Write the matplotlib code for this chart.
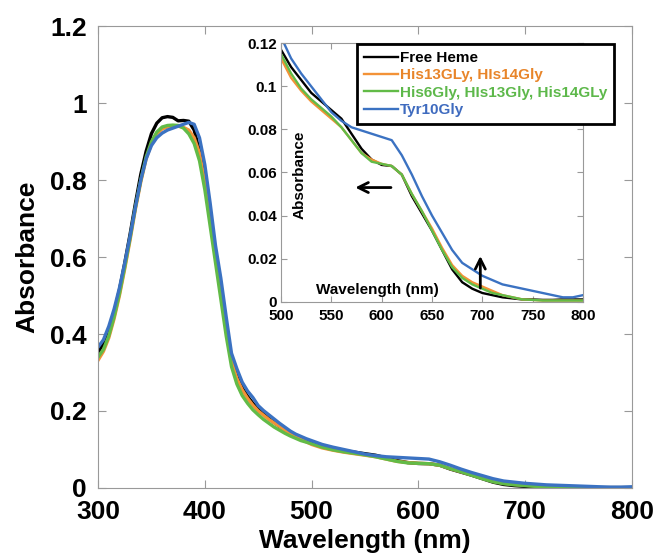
import numpy as np
from matplotlib import pyplot as plt
from matplotlib.ticker import FormatStrFormatter

plt.rcParams['font.family'] = ['Liberation Sans', 'DejaVu Sans']
plt.rcParams['font.weight'] = 'bold'

# wavelength grid (nm): 5 nm steps over the Soret band, 10 nm after
wl = list(range(300, 500, 5)) + list(range(500, 801, 10))

free_heme = [0.353, 0.375, 0.41, 0.455, 0.515, 0.585, 0.66, 0.74, 0.815, 0.875,
             0.921, 0.948, 0.962, 0.965, 0.963, 0.954, 0.955, 0.953, 0.93, 0.875,
             0.80, 0.705, 0.61, 0.515, 0.42, 0.335, 0.29, 0.26, 0.238, 0.22,
             0.205, 0.192, 0.18, 0.17, 0.16, 0.151, 0.143, 0.136, 0.129, 0.123,
             0.117, 0.109, 0.103, 0.097, 0.093, 0.089, 0.085, 0.078, 0.071, 0.066,
             0.0635, 0.063, 0.059, 0.049, 0.041, 0.033, 0.024, 0.015, 0.009, 0.006,
             0.004, 0.003, 0.002, 0.0015, 0.001, 0.001, 0.0008, 0.0008, 0.001, 0.001,
             0.001]

his13_14 = [0.332, 0.355, 0.39, 0.44, 0.50, 0.57, 0.645, 0.725, 0.795, 0.855,
            0.895, 0.92, 0.933, 0.938, 0.94, 0.94, 0.937, 0.93, 0.91, 0.87,
            0.795, 0.70, 0.605, 0.51, 0.415, 0.33, 0.285, 0.255, 0.233, 0.215,
            0.20, 0.189, 0.178, 0.169, 0.16, 0.15, 0.14, 0.133, 0.127, 0.12,
            0.113, 0.104, 0.098, 0.093, 0.089, 0.085, 0.081, 0.075, 0.069, 0.066,
            0.064, 0.063, 0.059, 0.05, 0.042, 0.034, 0.025, 0.017, 0.012, 0.009,
            0.007, 0.005, 0.003, 0.002, 0.001, 0.0008, 0.0005, 0.0005, 0.0005, 0.0005,
            0.0005]

his6_13_14 = [0.34, 0.36, 0.395, 0.445, 0.505, 0.575, 0.65, 0.73, 0.80, 0.86,
              0.90, 0.925, 0.938, 0.942, 0.943, 0.942, 0.935, 0.92, 0.895, 0.85,
              0.775, 0.68, 0.585, 0.49, 0.395, 0.315, 0.27, 0.24, 0.22, 0.203,
              0.19, 0.178, 0.168, 0.158, 0.15, 0.142, 0.135, 0.129, 0.123, 0.119,
              0.115, 0.106, 0.099, 0.094, 0.09, 0.086, 0.081, 0.075, 0.069, 0.065,
              0.064, 0.063, 0.059, 0.05, 0.042, 0.033, 0.024, 0.016, 0.011, 0.008,
              0.006, 0.004, 0.003, 0.002, 0.001, 0.0008, 0.0005, 0.0005, 0.0005, 0.0005,
              0.0005]

tyr10 = [0.366, 0.385, 0.42, 0.465, 0.52, 0.585, 0.655, 0.73, 0.80, 0.855,
         0.89, 0.91, 0.922, 0.93, 0.935, 0.94, 0.945, 0.95, 0.945, 0.91,
         0.84, 0.74, 0.63, 0.545, 0.445, 0.35, 0.31, 0.275, 0.252, 0.235,
         0.214, 0.201, 0.19, 0.179, 0.168, 0.158, 0.148, 0.14, 0.134, 0.128,
         0.123, 0.113, 0.106, 0.1, 0.094, 0.088, 0.084, 0.081, 0.0795, 0.078,
         0.0765, 0.075, 0.068, 0.059, 0.049, 0.040, 0.032, 0.024, 0.018, 0.015,
         0.012, 0.010, 0.008, 0.007, 0.006, 0.005, 0.004, 0.003, 0.002, 0.002,
         0.003]

labels = ['Free Heme', 'His13GLy, HIs14Gly', 'His6Gly, HIs13Gly, His14GLy', 'Tyr10Gly']
colors = ['black', '#F39237', '#62BB47', '#3B72C2']
text_colors = ['black', '#E8852A', '#5DB84A', '#3F6BBF']
series = [free_heme, his13_14, his6_13_14, tyr10]

fig = plt.figure(figsize=(6.54, 5.57), dpi=100)

# main plot
ax = fig.add_axes([0.150, 0.124, 0.816, 0.829])
for y, c in zip(series, colors):
    ax.plot(wl, y, color=c, lw=2.4)
ax.set_xlim(300, 800)
ax.set_ylim(0, 1.2)
ax.set_xticks([300, 400, 500, 600, 700, 800])
ax.set_yticks([0, 0.2, 0.4, 0.6, 0.8, 1.0, 1.2])
ax.yaxis.set_major_formatter(FormatStrFormatter('%g'))
ax.tick_params(direction='in', length=6, color='#999999', top=True, right=True,
               labelsize=19)
ax.tick_params(axis='y', pad=8)
ax.tick_params(axis='x', pad=9)
for s in ax.spines.values():
    s.set_color('#999999')
ax.set_xlabel('Wavelength (nm)', fontsize=19, fontweight='bold', labelpad=3)
ax.set_ylabel('Absorbance', fontsize=19, fontweight='bold', labelpad=8)

# inset
ax_in = fig.add_axes([0.4297, 0.4585, 0.4617, 0.4637])
for y, c, lab in zip(series, colors, labels):
    ax_in.plot(wl, y, color=c, lw=1.7, label=lab)
ax_in.set_xlim(500, 800)
ax_in.set_ylim(0, 0.12)
ax_in.set_xticks([500, 550, 600, 650, 700, 750, 800])
ax_in.set_yticks([0, 0.02, 0.04, 0.06, 0.08, 0.1, 0.12])
ax_in.yaxis.set_major_formatter(FormatStrFormatter('%g'))
ax_in.tick_params(direction='in', length=4, color='#999999', top=True, right=True,
                  labelsize=11, pad=3)
ax_in.tick_params(axis='x', pad=5)
for s in ax_in.spines.values():
    s.set_color('#999999')
ax_in.text(0.063, 0.49, 'Absorbance', transform=ax_in.transAxes, rotation=90,
           ha='center', va='center', fontsize=11, fontweight='bold')
ax_in.text(0.318, 0.045, 'Wavelength (nm)', transform=ax_in.transAxes,
           ha='center', va='center', fontsize=11, fontweight='bold')

ax_in.annotate('', xy=(571, 0.053), xytext=(612, 0.053),
               arrowprops=dict(arrowstyle='->', lw=2, color='black', mutation_scale=18))
ax_in.annotate('', xy=(698, 0.0225), xytext=(698, 0.005),
               arrowprops=dict(arrowstyle='->', lw=2, color='black', mutation_scale=18))

leg = ax_in.legend(loc='upper left', bbox_to_anchor=(0.546, 0.921),
                   bbox_transform=fig.transFigure, fontsize=11, fancybox=False,
                   handlelength=2.2, handletextpad=0.15, borderpad=0.45,
                   labelspacing=0.22, borderaxespad=0, framealpha=1,
                   labelcolor=text_colors)
leg.get_frame().set_edgecolor('black')
leg.get_frame().set_linewidth(2)
for t in leg.get_texts():
    t.set_fontweight('bold')

fig.savefig('out.png', dpi=100)
